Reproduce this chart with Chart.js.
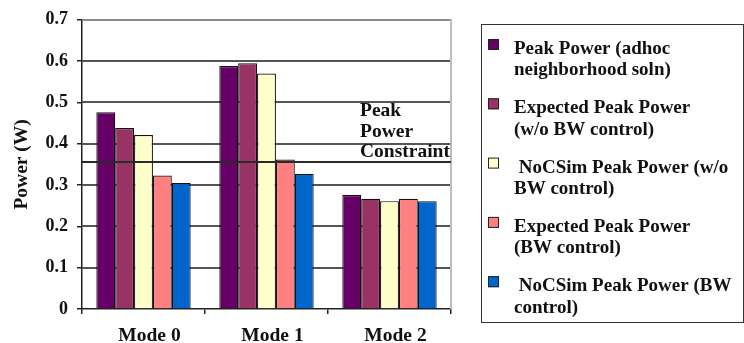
<!DOCTYPE html>
<html>
<head>
<meta charset="utf-8">
<script src="https://cdn.jsdelivr.net/npm/chart.js@4/dist/chart.umd.min.js"></script>
<style>
  html, body { margin: 0; padding: 0; background: #fff; }
  #wrap { width: 744px; height: 343px; position: relative; }
</style>
</head>
<body>
<div id="wrap"><canvas id="c" width="744" height="343"></canvas></div>
<script>
// Operating modes on the x axis
const categories = ['Mode 0', 'Mode 1', 'Mode 2'];

// Peak power per mode, in watts
const adhocPeak        = [0.476, 0.588, 0.276];
const expectedNoBW     = [0.438, 0.595, 0.267];
const nocsimNoBW       = [0.421, 0.570, 0.261];
const expectedBW       = [0.323, 0.362, 0.267];
const nocsimBW         = [0.305, 0.327, 0.261];

// Legend entries, split into the lines they wrap to
const seriesNames = [
  ['Peak Power (adhoc', 'neighborhood soln)'],
  ['Expected Peak Power', '(w/o BW control)'],
  [' NoCSim Peak Power (w/o', 'BW control)'],
  ['Expected Peak Power', '(BW control)'],
  [' NoCSim Peak Power (BW', 'control)']
];
const seriesColors = ['#660066', '#993366', '#ffffcc', '#ff8080', '#0066cc'];

// Peak power budget line and its caption
const constraintValue = 0.355;
const constraintLabel = ['Peak', 'Power', 'Constraint'];

// Y axis ticks
const yTickLabels = ['0', '0.1', '0.2', '0.3', '0.4', '0.5', '0.6', '0.7'];

const SERIF = "'Liberation Serif', 'Times New Roman', serif";
const seriesValues = [adhocPeak, expectedNoBW, nocsimNoBW, expectedBW, nocsimBW];

// Horizontal value gridlines across the plot, beneath the bars
const gridLines = {
  id: 'gridLines',
  beforeDatasetsDraw(chart) {
    const ctx = chart.ctx;
    const a = chart.chartArea;
    const ys = chart.scales.y;
    ctx.save();
    ctx.lineWidth = 2;
    ys.ticks.forEach((t) => {
      if (t.value === 0) return;
      const y = Math.round(ys.getPixelForValue(t.value));
      ctx.strokeStyle = t.value >= 0.7 ? '#8a8a8a' : '#555';
      ctx.beginPath();
      ctx.moveTo(a.left, y);
      ctx.lineTo(a.right, y);
      ctx.stroke();
    });
    // right edge of the plot frame
    ctx.strokeStyle = '#bdbdbd';
    ctx.beginPath();
    ctx.moveTo(Math.round(a.right), a.top - 1);
    ctx.lineTo(Math.round(a.right), a.bottom);
    ctx.stroke();
    ctx.restore();
  }
};

// Constraint line, its caption and the boxed legend
const extras = {
  id: 'extras',
  afterDatasetsDraw(chart) {
    const ctx = chart.ctx;
    const a = chart.chartArea;
    const y = Math.round(chart.scales.y.getPixelForValue(constraintValue));
    ctx.save();
    ctx.strokeStyle = '#2a2a2a';
    ctx.lineWidth = 2;
    ctx.beginPath();
    ctx.moveTo(a.left, y);
    ctx.lineTo(a.right, y);
    ctx.stroke();

    ctx.fillStyle = '#111';
    ctx.font = 'bold 19.5px ' + SERIF;
    ctx.textBaseline = 'alphabetic';
    ctx.textAlign = 'left';
    constraintLabel.forEach((t, i) => ctx.fillText(t, 360, y - 46 + i * 20.5));

    const lx = 481, ly = 24, lw = 262, lh = 298;
    ctx.fillStyle = '#fff';
    ctx.fillRect(lx, ly, lw, lh);
    ctx.strokeStyle = '#333';
    ctx.lineWidth = 1;
    ctx.strokeRect(lx + 0.5, ly + 0.5, lw, lh);
    ctx.font = 'bold 19px ' + SERIF;
    chart.data.datasets.forEach((ds, i) => {
      const top = 39 + i * 59.3;
      ctx.fillStyle = ds.backgroundColor;
      ctx.fillRect(488, top, 11, 11);
      ctx.strokeStyle = '#222';
      ctx.strokeRect(488.5, top + 0.5, 10, 10);
      ctx.fillStyle = '#111';
      seriesNames[i].forEach((line, j) => ctx.fillText(line, 514, top + 15 + j * 21.3));
    });
    ctx.restore();
  }
};

new Chart(document.getElementById('c'), {
  type: 'bar',
  data: {
    labels: categories,
    datasets: seriesValues.map((vals, i) => ({
      label: seriesNames[i].join(' ').trim(),
      data: vals,
      backgroundColor: seriesColors[i],
      borderColor: '#111',
      borderWidth: 1.2,
      barPercentage: 1,
      categoryPercentage: 0.767
    }))
  },
  options: {
    responsive: false,
    animation: false,
    devicePixelRatio: 1,
    layout: { padding: { top: 15, right: 293, left: 0, bottom: 0 } },
    plugins: { legend: { display: false }, tooltip: { enabled: false } },
    scales: {
      x: {
        afterFit(s) { s.height = 34; },
        border: { color: '#222', width: 1.5 },
        grid: { drawOnChartArea: false, drawTicks: true, tickLength: 5, color: '#222', lineWidth: 1.5, offset: true },
        ticks: {
          color: '#111',
          font: { family: SERIF, size: 19.5, weight: 'bold' },
          padding: 10,
          labelOffset: 6,
          maxRotation: 0
        }
      },
      y: {
        min: 0,
        max: 0.7,
        afterFit(s) { s.width = 82; },
        border: { color: '#222', width: 1.5 },
        grid: { drawOnChartArea: false, color: '#222', lineWidth: 1.5, tickLength: 5, drawTicks: true },
        ticks: {
          stepSize: 0.1,
          color: '#111',
          font: { family: SERIF, size: 18, weight: 'bold' },
          padding: 9,
          callback: (v, i) => yTickLabels[i]
        },
        title: {
          display: true,
          text: 'Power (W)',
          color: '#111',
          font: { family: SERIF, size: 19.5, weight: 'bold' },
          padding: { top: 10, bottom: 0 }
        }
      }
    }
  },
  plugins: [gridLines, extras]
});
</script>
</body>
</html>
